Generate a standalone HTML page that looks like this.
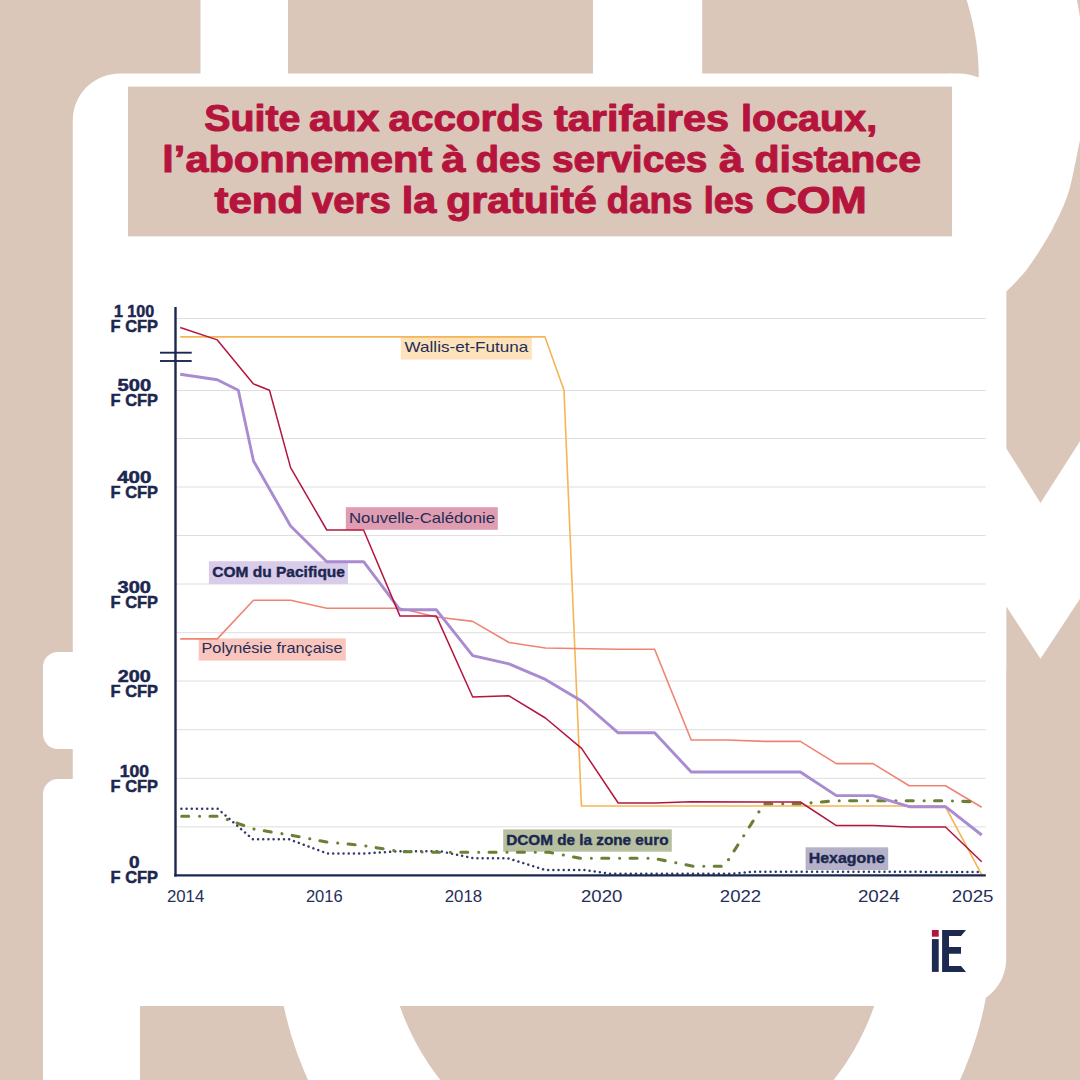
<!DOCTYPE html>
<html lang="fr"><head><meta charset="utf-8"><title>Abonnement services à distance COM</title>
<style>
html,body{margin:0;padding:0;background:#dbc7ba;}
body{width:1080px;height:1080px;overflow:hidden;font-family:"Liberation Sans",sans-serif;}
svg{display:block;font-family:"Liberation Sans",sans-serif;}
.t{font-weight:bold;font-size:37.5px;fill:#b5153d;stroke:#b5153d;stroke-width:1.1px;stroke-linejoin:round;}
.yl text{font-weight:bold;font-size:16.5px;fill:#1c2750;stroke:#1c2750;stroke-width:0.5px;text-anchor:middle;}
.xl text{font-size:16.8px;fill:#27305a;text-anchor:middle;}
.lb{font-size:15px;fill:#232d57;}
.lbb{font-size:14.5px;font-weight:bold;fill:#1c2750;stroke:#1c2750;stroke-width:0.4px;}
.g line{stroke:#dedede;stroke-width:1;}
</style></head><body>
<svg width="1080" height="1080" viewBox="0 0 1080 1080">
<rect width="1080" height="1080" fill="#dbc7ba"/>
<!-- white decorative shapes -->
<g fill="#fff">
<rect x="200.5" y="0" width="87.5" height="80"/>
<rect x="593" y="0" width="109.2" height="80"/>
<!-- right crescent + right column -->
<path d="M966.7,0 L1080,0 L1080,670 L1000,670 L1000,140 L950,140 L950,73.4 L978.7,77.5 L978.7,71.7 C978.3,50 975,28 966.7,0 Z"/>
<!-- left bumps -->
<rect x="43" y="651.9" width="60" height="97.2" rx="15"/>
<path d="M43,1080 V794 A15,15 0 0 1 58,779 H100 V1000 H140 V1080 Z"/>
<!-- bottom ring -->
<circle cx="634" cy="932" r="358"/>
</g>
<circle cx="637" cy="924" r="251" fill="#dbc7ba"/>
<g fill="#dbc7ba">
<!-- right arrows -->
<path d="M1080,139.7 C1076,160 1073,175 1070,187.6 C1065,205 1058,218 1051.7,230.4 C1044,244 1036,257 1027.2,269 C1020,278 1013,285 1006.2,291.5 V448.2 L1040.5,503 L1080,441.3 Z"/>
<path d="M1077,0 L1080,0 L1080,17 Z"/>
<path d="M1006.2,606.3 L1040.5,658.8 L1080,598.8 V700 H1006.2 Z"/>
</g>
<!-- main card -->
<path fill="#fff" d="M120,73.4 H959 A47,47 0 0 1 1006.2,120.4 V959 A47,47 0 0 1 959.2,1006 H72.8 V120.4 A47,47 0 0 1 120,73.4 Z"/>
<!-- title box -->
<rect x="128" y="86.6" width="824" height="149.8" fill="#dbc7ba"/>
<text class="t" x="204.3" y="130.7" textLength="96.2" lengthAdjust="spacingAndGlyphs">Suite</text><text class="t" x="309" y="130.7" textLength="70.5" lengthAdjust="spacingAndGlyphs">aux</text><text class="t" x="388.5" y="130.7" textLength="154.8" lengthAdjust="spacingAndGlyphs">accords</text><text class="t" x="554" y="130.7" textLength="175" lengthAdjust="spacingAndGlyphs">tarifaires</text><text class="t" x="741" y="130.7" textLength="136.2" lengthAdjust="spacingAndGlyphs">locaux,</text><text class="t" x="162.3" y="172.2" textLength="270.0" lengthAdjust="spacingAndGlyphs">l’abonnement</text><text class="t" x="441.5" y="172.2" textLength="24.0" lengthAdjust="spacingAndGlyphs">à</text><text class="t" x="475.8" y="172.2" textLength="65.4" lengthAdjust="spacingAndGlyphs">des</text><text class="t" x="552" y="172.2" textLength="155.4" lengthAdjust="spacingAndGlyphs">services</text><text class="t" x="719" y="172.2" textLength="24" lengthAdjust="spacingAndGlyphs">à</text><text class="t" x="754.4" y="172.2" textLength="166.6" lengthAdjust="spacingAndGlyphs">distance</text><text class="t" x="214.4" y="213.3" textLength="88.8" lengthAdjust="spacingAndGlyphs">tend</text><text class="t" x="312" y="213.3" textLength="78.8" lengthAdjust="spacingAndGlyphs">vers</text><text class="t" x="401.8" y="213.3" textLength="34.6" lengthAdjust="spacingAndGlyphs">la</text><text class="t" x="446.3" y="213.3" textLength="150.4" lengthAdjust="spacingAndGlyphs">gratuité</text><text class="t" x="606.7" y="213.3" textLength="85.8" lengthAdjust="spacingAndGlyphs">dans</text><text class="t" x="703.8" y="213.3" textLength="50.0" lengthAdjust="spacingAndGlyphs">les</text><text class="t" x="765.4" y="213.3" textLength="101.4" lengthAdjust="spacingAndGlyphs">COM</text>
<!-- grid -->
<g class="g"><line x1="176" x2="985.8" y1="318.5" y2="318.5"/><line x1="176" x2="985.8" y1="390.5" y2="390.5"/><line x1="176" x2="985.8" y1="438.5" y2="438.5"/><line x1="176" x2="985.8" y1="487" y2="487"/><line x1="176" x2="985.8" y1="535.5" y2="535.5"/><line x1="176" x2="985.8" y1="584" y2="584"/><line x1="176" x2="985.8" y1="632.7" y2="632.7"/><line x1="176" x2="985.8" y1="681" y2="681"/><line x1="176" x2="985.8" y1="729.7" y2="729.7"/><line x1="176" x2="985.8" y1="778.3" y2="778.3"/><line x1="176" x2="985.8" y1="826.8" y2="826.8"/></g>
<!-- label boxes -->
<rect x="400.8" y="337" width="131" height="22.6" fill="#fde2bb"/>
<rect x="345.8" y="507.2" width="152" height="22.6" fill="#e09cb0"/>
<rect x="208.9" y="561.2" width="139" height="22.9" fill="#d9cceb"/>
<rect x="198.7" y="638.4" width="147.1" height="22.2" fill="#f9c5bd"/>
<rect x="503.2" y="829.4" width="168.6" height="22.3" fill="#b6c0a0"/>
<rect x="805.6" y="847.3" width="82.6" height="22.7" fill="#b4b2c8"/>
<!-- series -->
<g fill="none" stroke-linejoin="round">
<path d="M180.2,336.9 L545,336.9 L564,390.3 L581.4,806 L945,806 L981.7,874.7" stroke="#f6b555" stroke-width="1.6"/>
<path d="M180.2,638.9 L217.3,638.9 L253.5,600.3 L290.6,600.3 L326.8,608.3 L400.0,608.3 L436.4,617 L472.7,621.4 L509.0,642.5 L545.4,648 L618.2,649.2 L654.6,649.2 L691.2,740 L727.6,740 L764.0,741.4 L800.3,741.4 L836.4,763.6 L873.0,763.6 L909.2,785.8 L945.5,785.8 L981.7,807.2" stroke="#f08473" stroke-width="1.6"/>
<path d="M181.4,808.7 L217.7,808.7 L252.8,839.2 L288.9,839.2 L327,853.4 L366,853.4 L400,851.2 L440,851.2 L474,858.3 L508,858.3 L545.5,870 L584.4,870 L611,873.8 L731,873.8 L753,871.8 L981.7,871.9" stroke="#33386a" stroke-width="2.5" stroke-dasharray="0.01 5.17" stroke-linecap="round"/>
<path d="M181.7,816.3 L218,816.3 L253.5,829 L290,835 L326.5,842 L363,845.5 L399.5,851.5 L436,852.3 L549,852.3 L580,858.2 L653,858.2 L693,866.2 L724.4,866.2 L764,803.8 L801,803.8 L835.6,800.7 L945,800.7 L980,802" stroke="#6b7f35" stroke-width="3.1" stroke-dasharray="7 10.9 0.01 10.4" stroke-linecap="round"/>
<path d="M180.2,374.3 L217.3,379.7 L238.3,390.3 L253.5,461 L290.6,526 L326.8,561.7 L363.6,561.7 L400.0,609.8 L436.4,609.8 L472.7,655.6 L509.0,663.9 L545.4,679.4 L581.6,701 L618.2,732.8 L654.6,732.8 L691.2,772 L800.3,772 L836.4,795.6 L873.0,795.6 L909.2,806.7 L945.5,806.7 L981.7,835" stroke="#a88bd0" stroke-width="2.9"/>
<path d="M180.2,327.5 L217.3,339.9 L253.5,383.9 L269.5,390.3 L290.6,467.6 L326.8,530 L363.6,530 L400.0,616.1 L436.4,616.1 L472.7,697 L509.0,695.8 L545.4,718 L581.6,748.3 L618.2,803 L654.6,803 L691.2,801.7 L800.3,802 L836.4,825.6 L873.0,825.6 L909.2,827 L945.5,827 L981.7,861.7" stroke="#b5153d" stroke-width="1.5"/>
</g>
<!-- axes -->
<g stroke="#1c2750" fill="none">
<line x1="175.5" x2="175.5" y1="307.1" y2="876.4" stroke-width="2.4"/>
<line x1="174.2" x2="985.8" y1="875.3" y2="875.3" stroke-width="2.2"/>
<line x1="160" x2="191.7" y1="352.7" y2="352.7" stroke-width="1.9"/>
<line x1="160" x2="191.7" y1="361" y2="361" stroke-width="1.9"/>
</g>
<g class="yl"><text x="134" y="317" textLength="40.2" lengthAdjust="spacingAndGlyphs">1 100</text><text x="134.3" y="331.7" textLength="47.4" lengthAdjust="spacingAndGlyphs">F CFP</text><text x="134.3" y="391.2" textLength="33.6" lengthAdjust="spacingAndGlyphs">500</text><text x="134.3" y="405.7" textLength="47.4" lengthAdjust="spacingAndGlyphs">F CFP</text><text x="134.3" y="483.3" textLength="34.2" lengthAdjust="spacingAndGlyphs">400</text><text x="134.3" y="497.7" textLength="47.4" lengthAdjust="spacingAndGlyphs">F CFP</text><text x="134.3" y="592.7" textLength="33.4" lengthAdjust="spacingAndGlyphs">300</text><text x="134.3" y="607.6" textLength="47.4" lengthAdjust="spacingAndGlyphs">F CFP</text><text x="134.3" y="682" textLength="33" lengthAdjust="spacingAndGlyphs">200</text><text x="134.3" y="696.7" textLength="47.4" lengthAdjust="spacingAndGlyphs">F CFP</text><text x="134.3" y="777" textLength="29.3" lengthAdjust="spacingAndGlyphs">100</text><text x="134.3" y="791.7" textLength="47.4" lengthAdjust="spacingAndGlyphs">F CFP</text><text x="134.3" y="868.3" textLength="10.6" lengthAdjust="spacingAndGlyphs">0</text><text x="134.3" y="882.5" textLength="47.4" lengthAdjust="spacingAndGlyphs">F CFP</text></g>
<g class="xl"><text x="185.6" y="902.4" textLength="37.4" lengthAdjust="spacingAndGlyphs">2014</text><text x="324.3" y="902.4" textLength="36.8" lengthAdjust="spacingAndGlyphs">2016</text><text x="463.4" y="902.4" textLength="37.4" lengthAdjust="spacingAndGlyphs">2018</text><text x="601.7" y="902.4" textLength="41.4" lengthAdjust="spacingAndGlyphs">2020</text><text x="740.5" y="902.4" textLength="41.3" lengthAdjust="spacingAndGlyphs">2022</text><text x="878.8" y="902.4" textLength="41.8" lengthAdjust="spacingAndGlyphs">2024</text><text x="972.7" y="902.4" textLength="41.7" lengthAdjust="spacingAndGlyphs">2025</text></g>
<!-- series labels -->
<text class="lb" x="404.6" y="352.2" textLength="123.6" lengthAdjust="spacingAndGlyphs">Wallis-et-Futuna</text>
<text class="lb" x="349" y="522.9" textLength="146" lengthAdjust="spacingAndGlyphs">Nouvelle-Calédonie</text>
<text class="lbb" x="212.2" y="576.8" textLength="132.8" lengthAdjust="spacingAndGlyphs">COM du Pacifique</text>
<text class="lb" x="201.5" y="653.2" textLength="141" lengthAdjust="spacingAndGlyphs">Polynésie française</text>
<text class="lbb" x="506.2" y="844.8" textLength="162.3" lengthAdjust="spacingAndGlyphs">DCOM de la zone euro</text>
<text class="lbb" x="808.8" y="862.9" textLength="76" lengthAdjust="spacingAndGlyphs">Hexagone</text>
<!-- logo -->
<g>
<rect x="931.9" y="930" width="6.8" height="6.7" fill="#b8143b"/>
<rect x="931.9" y="939.1" width="6.8" height="32.8" fill="#1c2950"/>
<path d="M942.1,930 H966 L961,936 H949 V946.9 H961 V953.8 H949 V966 H961 L966,971.9 H942.1 Z" fill="#1c2950"/>
</g>
</svg>
</body></html>
